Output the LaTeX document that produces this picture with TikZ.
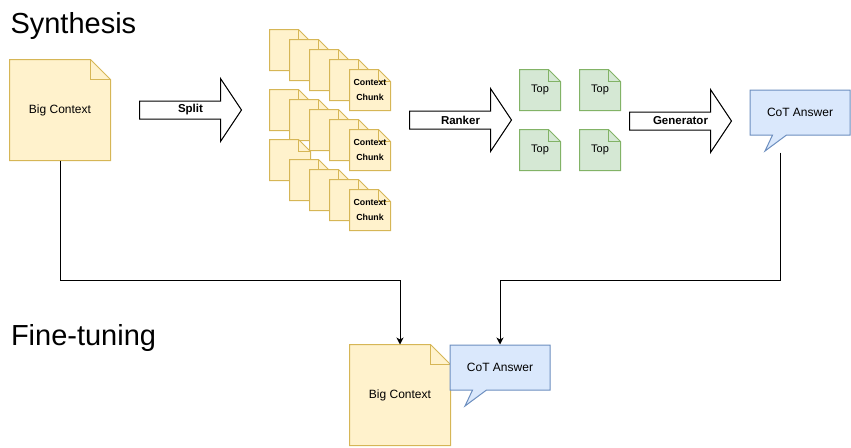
\documentclass[tikz,border=0pt]{standalone}
\usepackage{fontspec}
\setmainfont{Liberation Sans}
\usepackage{xcolor}
\usepackage{tikz}
\usetikzlibrary{positioning,arrows.meta,shapes.callouts}
\definecolor{notefill}{HTML}{FFF2CC}
\definecolor{noteline}{HTML}{D6B656}
\definecolor{topfill}{HTML}{D5E8D4}
\definecolor{topline}{HTML}{82B366}
\definecolor{ansfill}{HTML}{DAE8FC}
\definecolor{ansline}{HTML}{6C8EBF}

\tikzset{
  yellowpaper/.style={draw=noteline, fill=notefill},
  greenpaper/.style={draw=topline, fill=topfill},
  % folded sheet drawn behind the node text
  paper/.style 2 args={inner sep=0pt, append after command={\pgfextra{
      \draw[#2] (\tikzlastnode.north west) -- ([xshift=-#1]\tikzlastnode.north east)
        -- ([yshift=-#1]\tikzlastnode.north east) -- (\tikzlastnode.south east)
        -- (\tikzlastnode.south west) -- cycle;
      \draw[#2, fill=none] ([xshift=-#1]\tikzlastnode.north east)
        |- ([yshift=-#1]\tikzlastnode.north east);}}},
  % block arrow with a label in it
  fatarrow/.style={minimum width=101pt, minimum height=62pt, inner sep=0pt,
      font=\bfseries\fontsize{11.5}{13}\selectfont,
      append after command={\pgfextra{
      \draw[fill=white] ([yshift=9pt]\tikzlastnode.west)
        -- ([xshift=-21pt,yshift=9pt]\tikzlastnode.east)
        -- ([xshift=-21pt]\tikzlastnode.north east) -- (\tikzlastnode.east)
        -- ([xshift=-21pt]\tikzlastnode.south east)
        -- ([xshift=-21pt,yshift=-9pt]\tikzlastnode.east)
        -- ([yshift=-9pt]\tikzlastnode.west) -- cycle;}}}
}

\begin{document}
\begin{tikzpicture}[x=1pt, y=-1pt, line width=1pt,
  >={Stealth[length=7pt,width=7pt,inset=2pt]},
  bigdoc/.style={paper={20pt}{yellowpaper}, minimum width=100pt, minimum height=100pt,
                 font=\fontsize{12}{14}\selectfont},
  chunk/.style={paper={12pt}{yellowpaper}, minimum width=40pt, minimum height=40pt,
                align=center, font=\bfseries\fontsize{8.8}{15}\selectfont},
  topdoc/.style={paper={12pt}{greenpaper}, minimum width=40pt, minimum height=40pt,
                 font=\fontsize{11}{13}\selectfont},
  bubble/.style={rectangle callout, draw=ansline, fill=ansfill, inner sep=0pt,
                 minimum width=100pt, minimum height=45pt,
                 callout relative pointer={(-14.55pt,-16pt)}, callout pointer width=14pt,
                 font=\fontsize{12}{14}\selectfont},
  title/.style={anchor=base west, inner sep=0pt, font=\fontsize{29}{33}\selectfont}]
  \useasboundingbox (0,0) rectangle (851,447);

  \node (synth) [title] at (10,33) {Synthesis};
  \node (tune) [title] at (10.5,345) {Fine-tuning};

  \node (bigctx) [bigdoc] at (60,110) {Big Context};
  \node (split) [fatarrow] at (190.5,110) {Split};

  \foreach \n/\cx/\cy in {a1/290/50, a2/310/60, a3/330/70, a4/350/80,
                          b1/290/110, b2/310/120, b3/330/130, b4/350/140,
                          c1/290/160, c2/310/180, c3/330/190, c4/350/200}
    \node (chunk\n) [chunk] at (\cx,\cy) {};
  \node (chunka) [chunk] at (370,90) {Context\\Chunk};
  \node (chunkb) [chunk] at (370,150) {Context\\Chunk};
  \node (chunkc) [chunk] at (370,210) {Context\\Chunk};

  \node (ranker) [fatarrow] at (460.5,120) {Ranker};

  \node (top1) [topdoc] at (540,90) {Top};
  \node (top2) [topdoc] at (600,90) {Top};
  \node (top3) [topdoc] at (540,150) {Top};
  \node (top4) [topdoc] at (600,150) {Top};

  \node (gen) [fatarrow] at (680.5,121) {Generator};
  \node (topans) [bubble] at (800,112.5) {CoT Answer};

  \node (botctx) [bigdoc] at (400,395) {Big Context};
  \node (botans) [bubble] at (500,367.5) {CoT Answer};

  \coordinate (joinL) at (400,280);
  \coordinate (joinR) at (780,280);
  \draw[->] (bigctx.south) |- (joinL) -- (botctx.north);
  \draw[->] (topans.pointer -| joinR) -- (joinR) -| (botans.north);
\end{tikzpicture}
\end{document}
